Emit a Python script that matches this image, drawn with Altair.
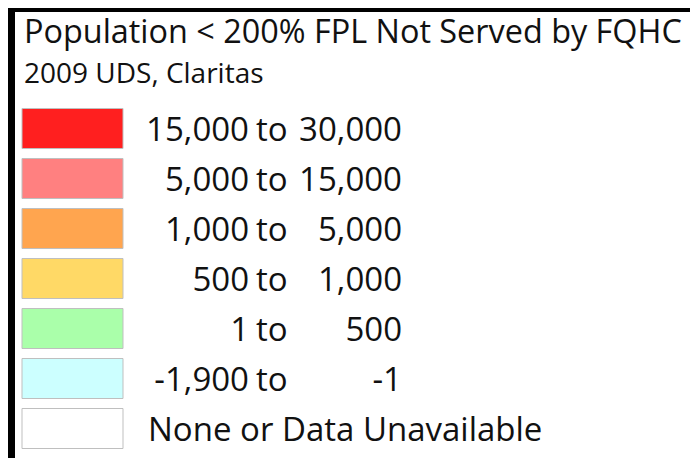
import altair as alt
import pandas as pd

title_text = "Population < 200% FPL Not Served by FQHC"
subtitle_text = "2009 UDS, Claritas"

categories = [
    "15,000 to 30,000",
    "5,000 to 15,000",
    "1,000 to 5,000",
    "500 to 1,000",
    "1 to 500",
    "-1,900 to -1",
    "None or Data Unavailable",
]
lo_labels = ["15,000", "5,000", "1,000", "500", "1", "-1,900", ""]
hi_labels = ["30,000", "15,000", "5,000", "1,000", "500", "-1", ""]
colors = ["#FF1F1F", "#FF8080", "#FFA54F", "#FFD966", "#AAFFAA", "#CCFFFF", "#FFFFFF"]

df = pd.DataFrame({"cat": categories, "lo": lo_labels, "hi": hi_labels})

FONT = "Open Sans"

yscale = alt.Scale(domain=categories, range=[91.5, 441.5], paddingInner=0.2, paddingOuter=0.1)
yenc = alt.Y("cat:N", sort=categories, axis=None, scale=yscale)
yenc_mid = alt.Y("cat:N", sort=categories, axis=None, bandPosition=0.5, scale=yscale)

base = alt.Chart(df)

swatches = base.mark_rect(stroke="#BFBFBF", strokeWidth=1).encode(
    x=alt.value(7),
    x2=alt.value(108),
    y=yenc,
    color=alt.Color("cat:N", scale=alt.Scale(domain=categories, range=colors), legend=None),
)

txt_kw = dict(font=FONT, fontSize=33, color="#111111", baseline="alphabetic", dy=12)

lo_text = base.transform_filter("datum.lo != ''").mark_text(align="right", **txt_kw).encode(
    x=alt.value(234), y=yenc_mid, text="lo:N"
)
to_text = base.transform_filter("datum.lo != ''").mark_text(align="left", **txt_kw).encode(
    x=alt.value(241), y=yenc_mid, text=alt.value("to")
)
hi_text = base.transform_filter("datum.lo != ''").mark_text(align="right", **txt_kw).encode(
    x=alt.value(387), y=yenc_mid, text="hi:N"
)
none_text = base.transform_filter("datum.lo == ''").mark_text(align="left", **txt_kw).encode(
    x=alt.value(133), y=yenc_mid, text="cat:N"
)

hdr = pd.DataFrame({"t": [title_text], "s": [subtitle_text]})
title_mark = alt.Chart(hdr).mark_text(
    font=FONT, fontSize=32.4, color="#111111", align="left", baseline="alphabetic"
).encode(x=alt.value(9), y=alt.value(31), text="t:N")
subtitle_mark = alt.Chart(hdr).mark_text(
    font=FONT, fontSize=28, color="#111111", align="left", baseline="alphabetic"
).encode(x=alt.value(9), y=alt.value(71), text="s:N")

# dark frame strips along the top and left edges (decoration)
frame_top = alt.Chart(hdr).mark_rect(color="#000000").encode(
    x=alt.value(-7), x2=alt.value(675), y=alt.value(-4), y2=alt.value(0)
)
frame_left = alt.Chart(hdr).mark_rect(color="#000000").encode(
    x=alt.value(-7), x2=alt.value(0), y=alt.value(-4), y2=alt.value(446)
)

chart = alt.layer(
    frame_top, frame_left, swatches, lo_text, to_text, hi_text, none_text, title_mark, subtitle_mark
).properties(
    width=682,
    height=450,
    background="#FFFFFF",
    padding=0,
    autosize=alt.AutoSizeParams(type="fit", contains="padding"),
).configure_view(fill="#FFFFFF", stroke=None)

chart.save("out.html", embed_options={"renderer": "svg", "actions": False})
